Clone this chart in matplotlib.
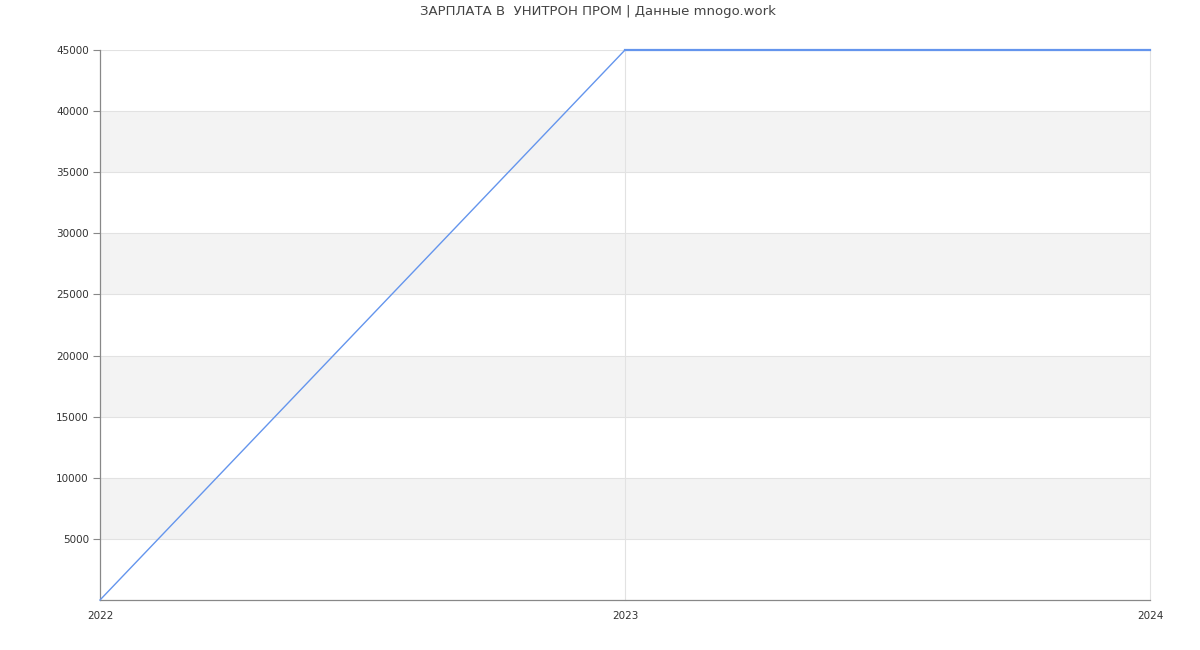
import matplotlib
matplotlib.use("Agg")
import matplotlib.pyplot as plt

years = [2022, 2023, 2024]
salary = [0, 45000, 45000]
yticks = [5000, 10000, 15000, 20000, 25000, 30000, 35000, 40000, 45000]
xticks = [2022, 2023, 2024]
title = "ЗАРПЛАТА В  УНИТРОН ПРОМ | Данные mnogo.work"

plt.rcParams['font.family'] = ['DejaVu Sans']
fig = plt.figure(figsize=(12, 6.5), dpi=100)
ax = fig.add_axes([100/1200, 50/650, 1050/1200, 550/650])

ax.set_xlim(2022, 2024)
ax.set_ylim(0, 45000)

# alternating bands
for lo in range(5000, 45000, 10000):
    ax.axhspan(lo, lo + 5000, color='#f3f3f3', zorder=0, lw=0)
for y in yticks:
    ax.axhline(y, color='#e2e2e2', lw=0.8, zorder=1)
for x in xticks[1:]:
    ax.axvline(x, color='#e2e2e2', lw=0.8, zorder=1, clip_on=False)

ax.plot(years, salary, color='#6495ed', lw=1.0, zorder=3, clip_on=False)
ax.plot(years[1:], salary[1:], color='#6495ed', lw=1.6, zorder=3, clip_on=False)

ax.set_yticks(yticks)
ax.set_yticklabels([str(v) for v in yticks])
ax.set_xticks(xticks)
ax.set_xticklabels([str(v) for v in xticks])
ax.tick_params(axis='y', length=5, color='#888888', labelsize=7.5, labelcolor='#333333', pad=3)
ax.tick_params(axis='x', length=0, labelsize=7.5, labelcolor='#333333', pad=8)
for lbl in ax.get_xticklabels():
    lbl.set_x(lbl.get_position()[0])

for s in ['top', 'right']:
    ax.spines[s].set_visible(False)
for s in ['left', 'bottom']:
    ax.spines[s].set_color('#888888')
    ax.spines[s].set_linewidth(0.9)

fig.text(0.5 - 2/1200, 1 - 12/650, title, ha='center', va='center', fontsize=9.5, color='#444444')

fig.savefig('out.png', dpi=100)
